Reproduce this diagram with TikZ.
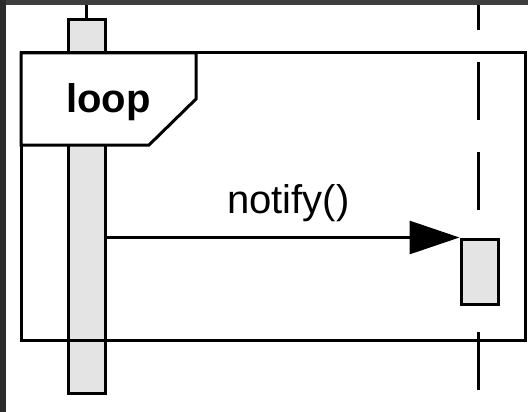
\documentclass[tikz,border=0pt]{standalone}
\usepackage{fontspec}
\setmainfont{Liberation Sans}
\usetikzlibrary{arrows.meta}
\definecolor{barfill}{HTML}{E4E4E4}
\definecolor{edgetop}{HTML}{3E3E3E}
\definecolor{edgeleft}{HTML}{2C2C2C}
\tikzset{
  ln/.style={line width=3pt, draw=black},
  actbar/.style={ln, fill=barfill, rectangle, inner sep=0pt, minimum width=37pt},
  lifedash/.style={ln, dash pattern=on 58pt off 32pt},
  msg/.style={ln, -{Triangle[length=50pt,width=33pt]}},
  lbl/.style={font=\fontsize{40}{48}\selectfont, anchor=base, inner sep=0pt},
}
\begin{document}
\begin{tikzpicture}[x=1pt,y=-1pt]
\useasboundingbox (0,0) rectangle (528,412);
\fill[white] (0,0) rectangle (528,412);
% lifelines
\coordinate (lltop) at (86.5,0);
\coordinate (rltop) at (478,-28);
\coordinate (rlbot) at (478,390);
\node[actbar, minimum height=373pt] (barL) at (86.5,206.5) {};
\draw[ln] (lltop) -- (barL.north);
\draw[lifedash] (rltop) -- (rlbot);
\node[actbar, minimum height=65pt] (barR) at (479.5,271.5) {};
% frame
\draw[ln] (21,53) rectangle (525,340);
\draw[ln, fill=white] (21,53) -- (196,53) -- (196,99) -- (149,145) -- (21,145) -- cycle;
\node[lbl, font=\bfseries\fontsize{40}{48}\selectfont] (loop) at (108.5,113) {loop};
% message
\draw[msg] (barL.east |- barR.north west) -- (barR.north west);
\node[lbl] (notify) at (288.5,213) {notify()};
% dark edges
\fill[edgetop] (0,0) rectangle (528,5);
\fill[edgeleft] (0,0) rectangle (6,412);
\end{tikzpicture}
\end{document}
